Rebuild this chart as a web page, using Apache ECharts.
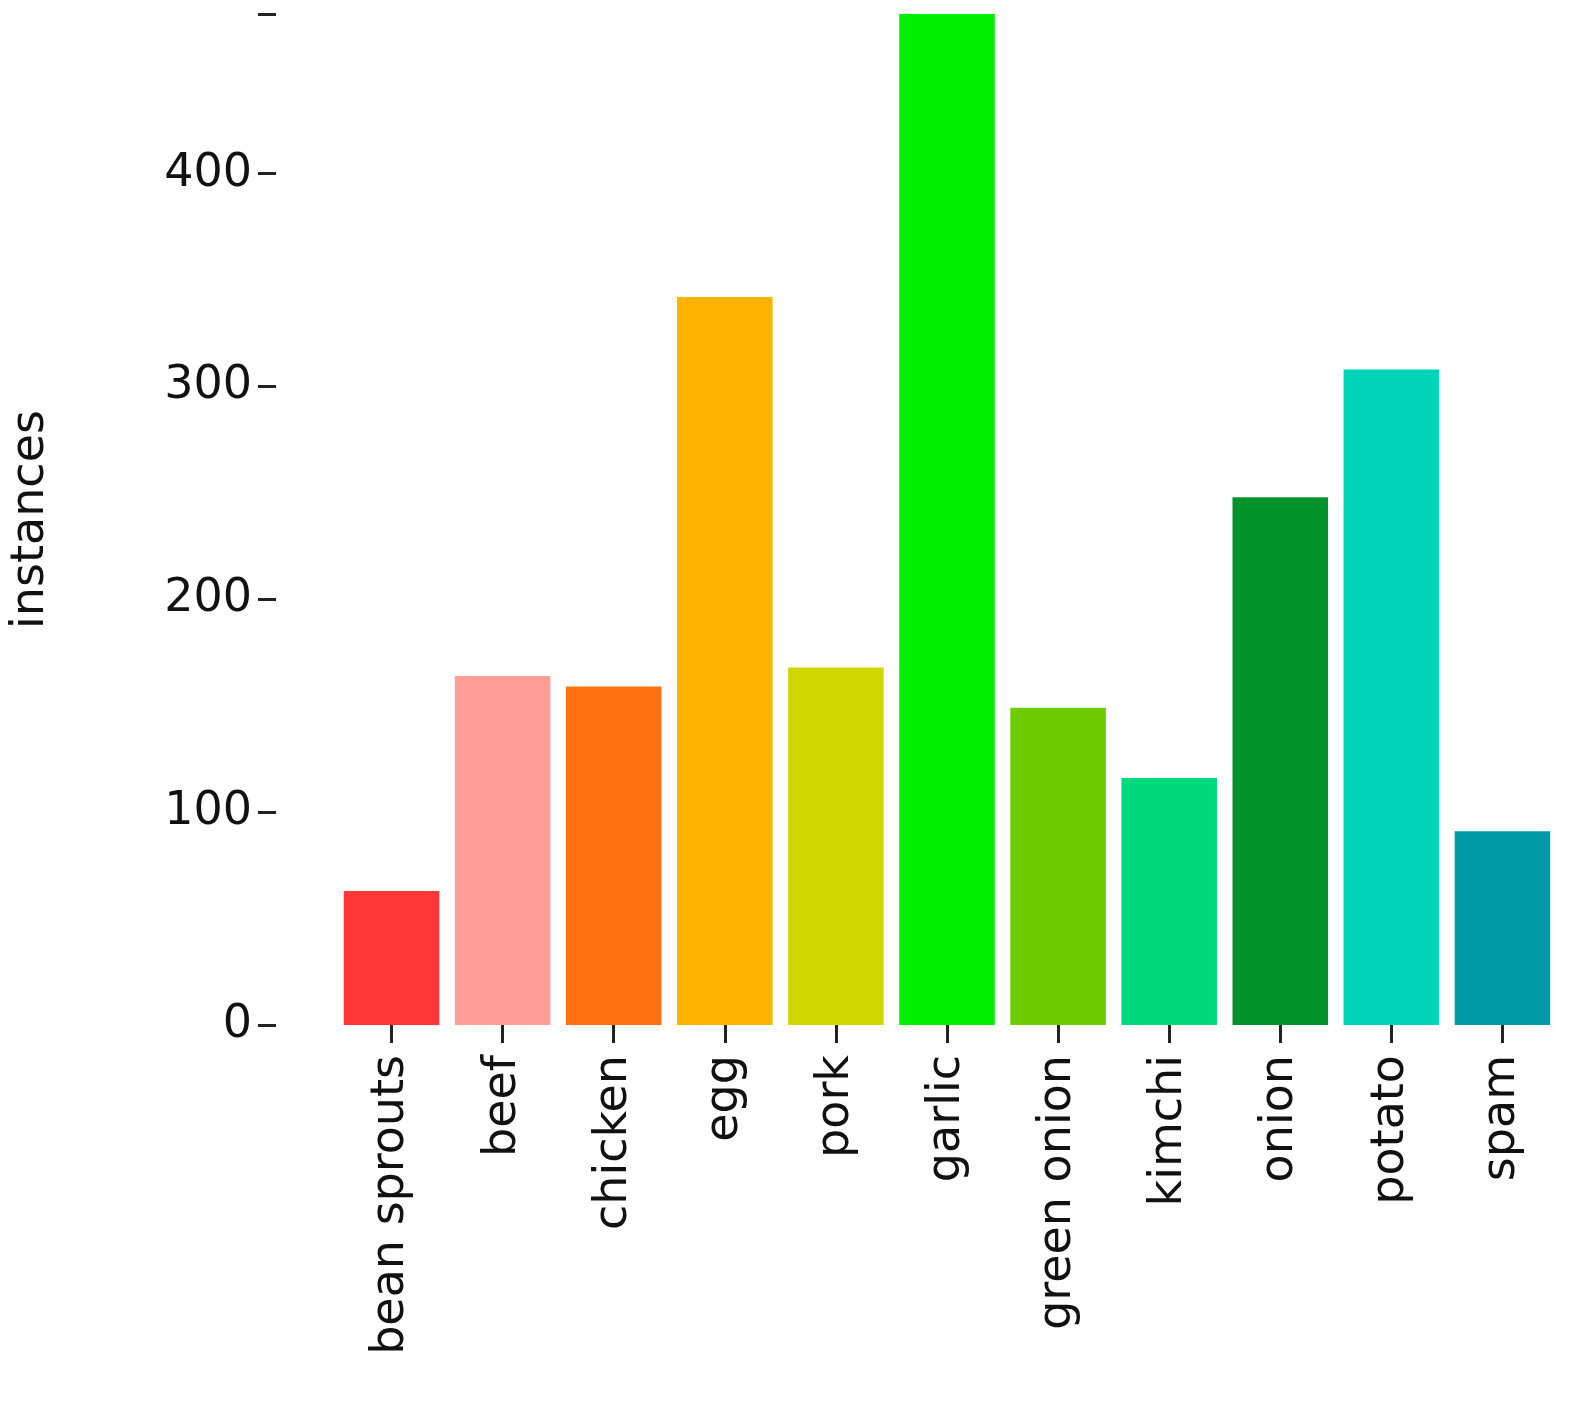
<!DOCTYPE html>
<html>
<head>
<meta charset="utf-8">
<style>html,body{margin:0;padding:0;background:#fff}#main{width:1596px;height:1415px}</style>
</head>
<body>
<div id="main"></div>
<script src="https://cdn.jsdelivr.net/npm/echarts@6/dist/echarts.min.js"></script>
<script>
var categories = ['bean sprouts','beef','chicken','egg','pork','garlic','green onion','kimchi','onion','potato','spam'];
var values = [63, 164, 159, 342, 168, 475, 149, 116, 248, 308, 91];
var colors = ['#ff3636','#ff9e98','#ff7010','#ffb300','#d0d600','#00f000','#6ecc00','#00da7c','#00912a','#00d4b8','#009aa6'];
var yTicks = [0, 100, 200, 300, 400];

var chart = echarts.init(document.getElementById('main'));
var font = 'DejaVu Sans';
chart.setOption({
  animation: false,
  grid: {left: 322, right: 38, top: 14, bottom: 390},
  xAxis: {
    type: 'category',
    data: categories,
    offset: 4,
    axisLine: {show: false},
    axisTick: {show: true, alignWithLabel: true, length: 18, lineStyle: {color: '#222', width: 3}},
    axisLabel: {rotate: 90, fontSize: 46, color: '#111', fontFamily: font, margin: 26}
  },
  yAxis: {
    type: 'value',
    min: 0, max: 475, interval: 100,
    offset: 60,
    name: 'instances',
    nameLocation: 'middle',
    nameGap: 222,
    nameTextStyle: {fontSize: 46, color: '#111', fontFamily: font},
    splitLine: {show: false},
    axisLine: {show: false},
    axisTick: {show: true, length: 18, lineStyle: {color: '#222', width: 3}},
    axisLabel: {fontSize: 46, color: '#111', fontFamily: font, margin: 24,
      formatter: function (v) { return yTicks.indexOf(v) >= 0 ? v : ''; }}
  },
  series: [{
    type: 'bar',
    barCategoryGap: '14%',
    data: values.map(function (v, i) { return {value: v, itemStyle: {color: colors[i]}}; })
  }]
});
</script>
</body>
</html>
